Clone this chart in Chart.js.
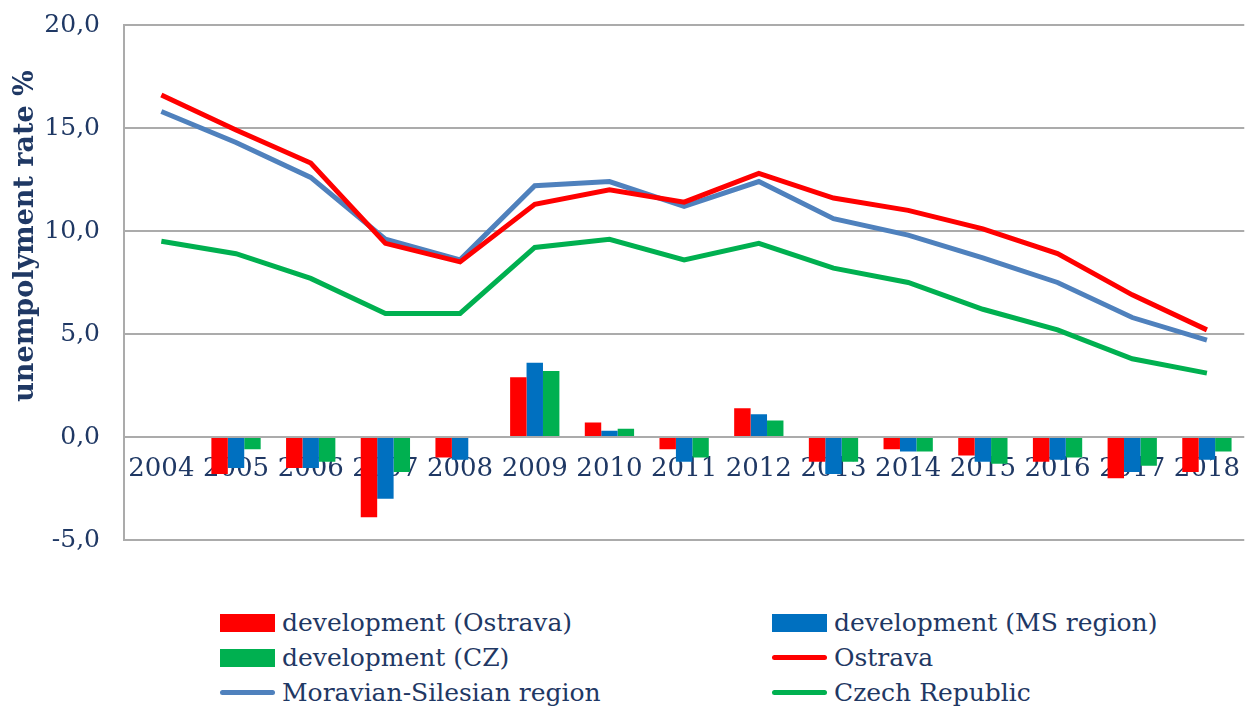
<!DOCTYPE html>
<html>
<head>
<meta charset="utf-8">
<script src="https://cdn.jsdelivr.net/npm/chart.js@4.4.1/dist/chart.umd.min.js"></script>
<style>
  body { margin: 0; background: #fff; width: 1245px; height: 706px; overflow: hidden; position: relative; }
  #wrap { position: absolute; left: 0; top: -14px; width: 1257px; height: 593px; }
  #legend { position: absolute; left: 220px; top: 605px; display: grid;
            grid-template-columns: 552px 420px; grid-auto-rows: 35px;
            font-family: "DejaVu Serif", serif; font-size: 25px; color: #1F3864; }
  .item { display: flex; align-items: center; white-space: nowrap; }
  .sw { width: 55px; margin-right: 7px; flex: none; }
</style>
</head>
<body>
<div id="wrap"><canvas id="chart"></canvas></div>
<div id="legend"></div>
<script>
const years = ['2004','2005','2006','2007','2008','2009','2010','2011','2012','2013','2014','2015','2016','2017','2018'];

// year-on-year change (bars)
const devOstrava = [null, -1.8, -1.5, -3.9, -1.0, 2.9, 0.7, -0.6, 1.4, -1.2, -0.6, -0.9, -1.2, -2.0, -1.7];
const devMS      = [null, -1.5, -1.5, -3.0, -1.1, 3.6, 0.3, -1.2, 1.1, -1.8, -0.7, -1.2, -1.1, -1.7, -1.1];
const devCZ      = [null, -0.6, -1.2, -1.7, 0.0, 3.2, 0.4, -1.0, 0.8, -1.2, -0.7, -1.3, -1.0, -1.4, -0.7];

// unemployment rate (lines)
const ostrava = [16.6, 14.9, 13.3, 9.4, 8.5, 11.3, 12.0, 11.4, 12.8, 11.6, 11.0, 10.1, 8.9, 6.9, 5.2];
const msRegion = [15.8, 14.3, 12.6, 9.6, 8.6, 12.2, 12.4, 11.2, 12.4, 10.6, 9.8, 8.7, 7.5, 5.8, 4.7];
const czech    = [9.5, 8.9, 7.7, 6.0, 6.0, 9.2, 9.6, 8.6, 9.4, 8.2, 7.5, 6.2, 5.2, 3.8, 3.1];

const yTicks = [-5, 0, 5, 10, 15, 20];

const navy = '#1F3864';
const gridGray = '#ababab';

// y-axis title drawn by hand so it can sit off-centre like the original
const yTitle = {
  id: 'yTitle',
  afterDraw(chart) {
    const ctx = chart.ctx;
    ctx.save();
    ctx.translate(26, 236 + 14);
    ctx.rotate(-Math.PI / 2);
    ctx.font = 'bold 27px "DejaVu Serif"';
    ctx.fillStyle = navy;
    ctx.textAlign = 'center';
    ctx.textBaseline = 'middle';
    ctx.fillText('unempolyment rate %', 0, 0);
    ctx.restore();
  }
};

const barDs = (label, data, color) => ({
  type: 'bar', label, data, backgroundColor: color, borderWidth: 0,
  categoryPercentage: 0.66, barPercentage: 1, order: 2
});
const lineDs = (label, data, color) => ({
  type: 'line', label, data, borderColor: color, backgroundColor: color,
  borderWidth: 5, pointRadius: 0, tension: 0, order: 1
});

const chart = new Chart(document.getElementById('chart'), {
  type: 'bar',
  data: {
    labels: years,
    datasets: [
      barDs('development (Ostrava)', devOstrava, '#FF0000'),
      barDs('development (MS region)', devMS, '#0070C0'),
      barDs('development (CZ)', devCZ, '#00B050'),
      lineDs('Ostrava', ostrava, '#FF0000'),
      lineDs('Moravian-Silesian region', msRegion, '#4F81BD'),
      lineDs('Czech Republic', czech, '#00B050')
    ]
  },
  options: {
    responsive: true,
    maintainAspectRatio: false,
    animation: false,
    layout: { padding: { top: 12, right: 0, bottom: 1, left: 0 } },
    plugins: { legend: { display: false }, tooltip: { enabled: false } },
    scales: {
      x: {
        position: { y: 0 },
        grid: { display: false, drawTicks: false },
        border: { display: false },
        ticks: { color: navy, padding: 17, maxRotation: 0, autoSkip: false,
                 font: { family: 'DejaVu Serif', size: 26 } }
      },
      y: {
        min: -5, max: 20,
        afterBuildTicks: s => { s.ticks = yTicks.map(v => ({ value: v })); },
        afterFit: s => { s.width = 124; },
        grid: { color: gridGray, lineWidth: 2, drawTicks: false },
        border: { display: true, color: gridGray, width: 2 },
        ticks: { color: navy, padding: 24,
                 font: { family: 'DejaVu Serif', size: 25 },
                 callback: v => v.toFixed(1).replace('.', ',') }
      }
    }
  },
  plugins: [yTitle]
});

// legend in two columns, built from the chart's datasets
const legend = document.getElementById('legend');
chart.data.datasets.forEach(ds => {
  const item = document.createElement('div');
  item.className = 'item';
  const sw = document.createElement('span');
  sw.className = 'sw';
  if (ds.type === 'bar') {
    sw.style.height = '18px';
    sw.style.background = ds.backgroundColor;
  } else {
    sw.style.height = '5px';
    sw.style.borderRadius = '3px';
    sw.style.background = ds.borderColor;
  }
  const txt = document.createElement('span');
  txt.textContent = ds.label;
  item.appendChild(sw);
  item.appendChild(txt);
  legend.appendChild(item);
});
</script>
</body>
</html>
